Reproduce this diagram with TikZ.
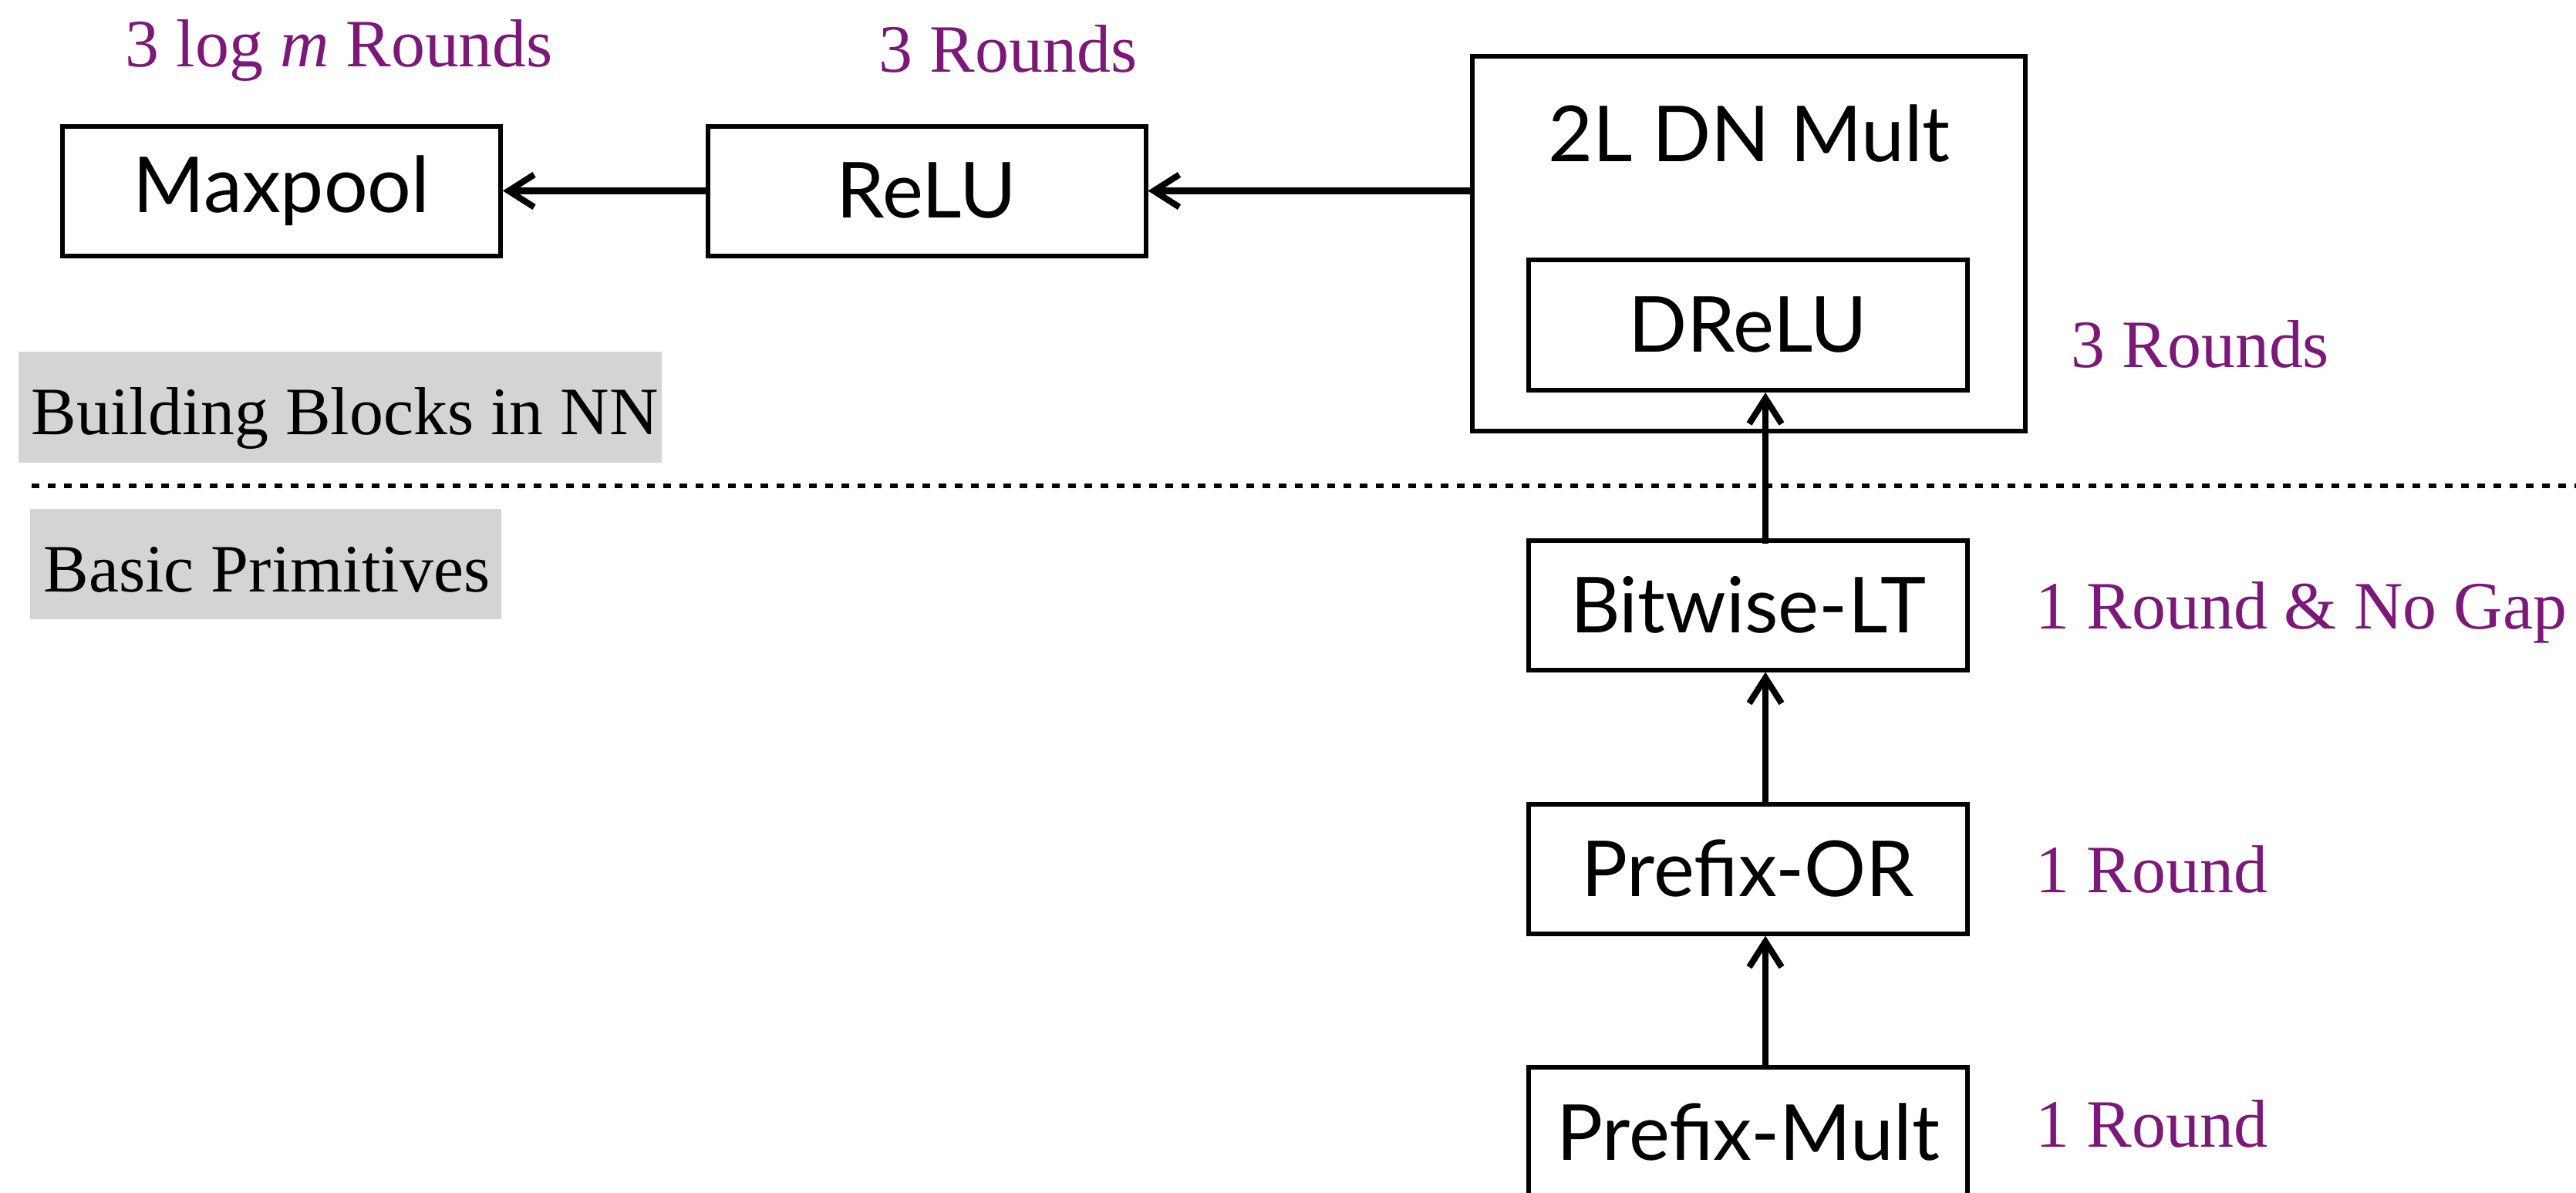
\documentclass[tikz,border=0pt]{standalone}
\usepackage{fontspec}
\setmainfont{Liberation Serif}
\newfontfamily\boxfont{Lato}
\usetikzlibrary{arrows.meta}
\definecolor{roundcol}{RGB}{123,24,120}
\definecolor{tagcol}{RGB}{212,212,212}
\tikzset{
  block/.style={draw=black, line width=1.7pt, rectangle, inner sep=0pt,
    minimum width=5.68cm, minimum height=1.68cm,
    font=\boxfont\fontsize{28.5}{34}\selectfont},
  cost/.style={text=roundcol, inner sep=0pt, font=\fontsize{25}{30}\selectfont},
  tag/.style={fill=tagcol, inner sep=0pt, font=\fontsize{25}{30}\selectfont},
  flow/.style={line width=2.3pt, -{Straight Barb[length=0.33cm, width=0.42cm, line width=2.3pt]}},
  divider/.style={line width=1.6pt, dash pattern=on 0.1cm off 0.11cm}
}
\begin{document}
\begin{tikzpicture}
\useasboundingbox (0,0) rectangle (33.4,-15.46);
% network-level blocks
\node[block] (maxpool) at (3.65,-2.475) {Maxpool};
\node[block] (relu) at (12.015,-2.475) {ReLU};
\node[block, minimum width=7.17cm, minimum height=4.86cm] (dnmult) at (22.675,-3.16) {};
\node[anchor=base, inner sep=0pt, font=\boxfont\fontsize{28.5}{34}\selectfont] (dnlabel) at (22.68,-2.09) {2L DN Mult};
\node[block, minimum width=5.69cm, minimum height=1.69cm] (drelu) at (22.665,-4.215) {DReLU};
% primitive blocks
\node[block, minimum width=5.69cm] (bitlt) at (22.665,-7.845) {Bitwise-LT};
\node[block, minimum width=5.69cm] (prefor) at (22.665,-11.265) {Prefix-OR};
\node[block, minimum width=5.69cm] (prefmult) at (22.665,-14.68) {Prefix-Mult};
% layer tags
\node[tag, minimum width=8.34cm, minimum height=1.44cm] (tagnn) at (4.41,-5.28) {};
\node[anchor=base west, inner sep=0pt, font=\fontsize{25}{30}\selectfont] (tagnntext) at (0.40,-5.63) {Building Blocks in NN};
\node[tag, minimum width=6.11cm, minimum height=1.43cm] (tagbp) at (3.445,-7.315) {};
\node[anchor=base west, inner sep=0pt, font=\fontsize{25}{30}\selectfont] (tagbptext) at (0.56,-7.67) {Basic Primitives};
% layer divider
\coordinate (divl) at (0.41,-6.30);
\coordinate (divr) at (33.4,-6.30);
\draw[divider] (divl) -- (divr);
% connectors
\coordinate (ax) at (22.89,0);
\draw[flow] (relu.west) -- (maxpool.east);
\draw[flow] (relu.east -| dnmult.west) -- (relu.east);
\draw[flow] ([yshift=-0.07cm]bitlt.north -| ax) -- (drelu.south -| ax);
\draw[flow] (prefor.north -| ax) -- (bitlt.south -| ax);
\draw[flow] (prefmult.north -| ax) -- (prefor.south -| ax);
% round counts
\node[cost, anchor=base] (c1) at (4.40,-0.86) {3 log \textit{m} Rounds};
\node[cost, anchor=base] (c2) at (13.07,-0.93) {3 Rounds};
\node[cost, anchor=base west] (c3) at (26.85,-4.76) {3 Rounds};
\node[cost, anchor=base west] (c4) at (26.39,-8.15) {1 Round \& No Gap};
\node[cost, anchor=base west] (c5) at (26.39,-11.57) {1 Round};
\node[cost, anchor=base west] (c6) at (26.39,-14.87) {1 Round};
\end{tikzpicture}
\end{document}
